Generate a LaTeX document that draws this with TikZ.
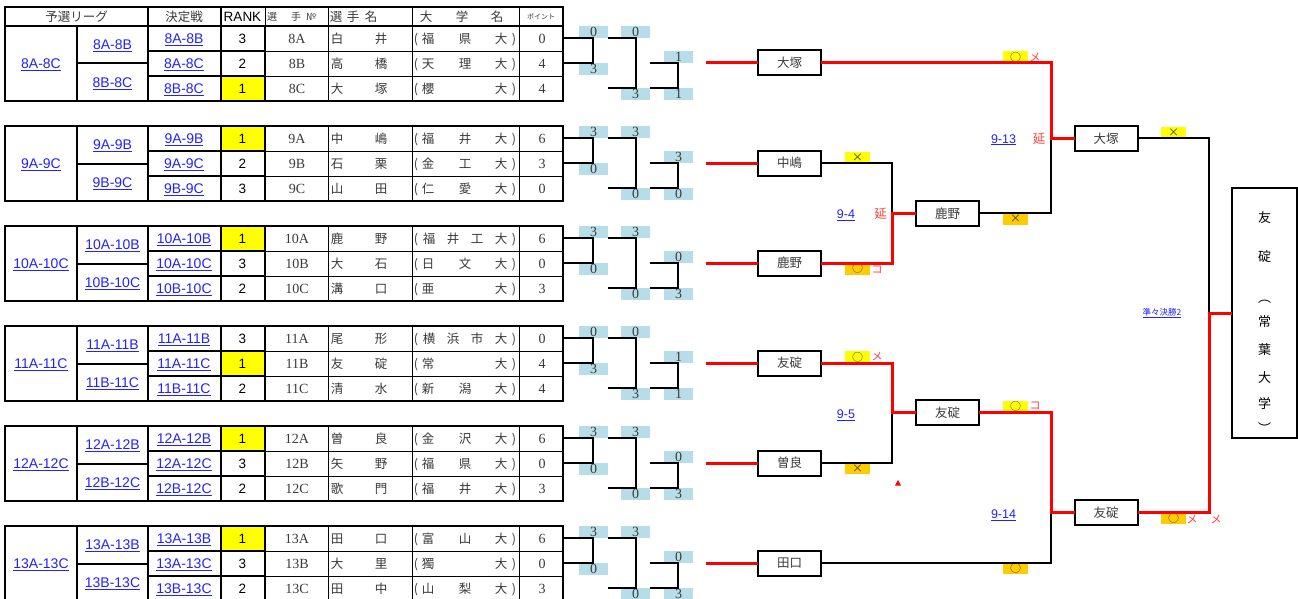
\documentclass[tikz,border=0pt]{standalone}
\usepackage{fontspec}
\setmainfont{Liberation Serif}
\newfontfamily\jpf{Noto Sans CJK JP}
\newfontfamily\snf{Liberation Sans}
\definecolor{lb}{HTML}{B7DEE8}
\definecolor{yel}{HTML}{FFFF00}
\definecolor{ora}{HTML}{FFCC00}
\definecolor{lnk}{HTML}{2222FF}
\definecolor{txt}{HTML}{3A3A3A}
\definecolor{rtx}{HTML}{FF4040}
\tikzset{
  every node/.style={inner sep=0pt,outer sep=0pt},
  tk/.style={line width=2pt},
  tn/.style={line width=0.8pt},
  lk/.style={anchor=base,yshift=-4.6pt,text=lnk,font=\snf\fontsize{12.5}{12.5}\selectfont},
  tl/.style={anchor=base,yshift=-5pt,text=lnk,font=\snf\fontsize{14}{14}\selectfont},
  jt/.style={anchor=base,yshift=-4.8pt,text=txt,font=\jpf\fontsize{12.5}{12.5}\selectfont},
  jsm/.style={anchor=base,yshift=-3.8pt,text=txt,font=\jpf\fontsize{10}{10}\selectfont},
  jtiny/.style={anchor=base,yshift=-2.8pt,text=txt,font=\jpf\fontsize{7}{7}\selectfont},
  nm/.style={anchor=base,yshift=-4.7pt,text=txt,font=\fontsize{14}{14}\selectfont},
  rk/.style={anchor=base,yshift=-4.8pt,text=black,font=\snf\fontsize{13.5}{13.5}\selectfont},
  ml/.style={fill=lb,minimum width=29pt,minimum height=12pt,text=txt,font=\fontsize{14}{14}\selectfont},
  bx/.style={draw,line width=2pt,minimum width=63pt,minimum height=25pt,text=txt,font=\jpf\fontsize{12.5}{12.5}\selectfont},
  mk/.style={minimum width=25pt,minimum height=11.5pt,text=txt,font=\jpf\fontsize{11}{11}\selectfont},
  rm/.style={text=rtx,font=\jpf\fontsize{11}{11}\selectfont},
  ry/.style={text=rtx,font=\jpf\fontsize{12.5}{12.5}\selectfont},
  fc/.style={text=black,font=\jpf\fontsize{13}{13}\selectfont},
  mb/.style={line width=2.5pt},
  blk/.style={line width=2pt},
  redl/.style={line width=3pt,red},
}
\newcommand\plrow[7]{%
  \node[rk] (rk-#1) at (242.5,#2) {#3};
  \node[nm] (no-#1) at (297,#2) {#1};
  \node[jt] (na-#1) at (337,#2) {#4};
  \node[jt] (nb-#1) at (381,#2) {#5};
  \node[jt] (po-#1) at (416,#2) {(};
  \node[jt] (pc-#1) at (514,#2) {)};
  \foreach \ux/\uc [count=\k] in {#6} {\node[jt] (u-#1-\k) at (\ux,#2) {\uc};}
  \node[nm] (pt-#1) at (542,#2) {#7};
}
\begin{document}
\begin{tikzpicture}[x=1pt,y=-1pt]
\useasboundingbox (0,0) rectangle (1298,599);
\fill[white] (0,0) rectangle (1298,599);
% header
\draw[tn] (265,7) -- (265,26) (328,7) -- (328,26) (412,7) -- (412,26) (519,7) -- (519,26);
\draw[tk] (148,7) -- (148,26) (220.5,7) -- (220.5,26);
\draw[tk] (5,7) rectangle (563,26);
\node[jt] (h1) at (76.5,16.5) {予選リーグ};
\node[jt] (h2) at (184,16.5) {決定戦};
\node[rk] (h3) at (242.5,16.5) {RANK};
\node[jsm] (h4a) at (272,16.5) {選};
\node[jsm] (h4b) at (296,16.5) {手};
\node[jsm] (h4c) at (311,16.5) {№};
\node[jt] (h5a) at (336,16.5) {選};
\node[jt] (h5b) at (353,16.5) {手};
\node[jt] (h5c) at (371,16.5) {名};
\node[jt] (h6a) at (426,16.5) {大};
\node[jt] (h6b) at (462,16.5) {学};
\node[jt] (h6c) at (497,16.5) {名};
\node[jtiny] (h7) at (541,16.5) {ポイント};
% groups
\foreach \g/\gn/\yr/\bn/\pa/\pb/\pc/\pd/\pe/\pf in {0/8/2/大塚/0/3/0/3/1/1,1/9/0/中嶋/3/0/3/0/3/0,2/10/0/鹿野/3/0/3/0/0/3,3/11/1/友碇/0/3/0/3/1/1,4/12/0/曽良/3/0/3/0/0/3,5/13/0/田口/3/0/3/0/0/3}{
  \pgfmathsetmacro\Ty{26+100*\g}
  \fill[yel] (221,\Ty+25*\yr) rectangle (265,\Ty+25*\yr+25);
  \draw[tn] (265,\Ty+25) -- (563,\Ty+25) (265,\Ty+50) -- (563,\Ty+50);
  \draw[tn] (328,\Ty) -- (328,\Ty+75) (412,\Ty) -- (412,\Ty+75) (519,\Ty) -- (519,\Ty+75);
  \draw[tk] (148,\Ty+25) -- (265,\Ty+25) (148,\Ty+50) -- (265,\Ty+50) (77,\Ty+37.5) -- (148,\Ty+37.5);
  \draw[tk] (77,\Ty) -- (77,\Ty+75) (148,\Ty) -- (148,\Ty+75) (220.5,\Ty) -- (220.5,\Ty+75) (265,\Ty) -- (265,\Ty+75);
  \draw[tk] (5,\Ty) rectangle (563,\Ty+75);
  \node[tl] (ca\gn) at (41,\Ty+37.5) {\underline{\gn A-\gn C}};
  \node[tl] (cb\gn) at (112.5,\Ty+18.75) {\underline{\gn A-\gn B}};
  \node[tl] (cc\gn) at (112.5,\Ty+56.25) {\underline{\gn B-\gn C}};
  \node[tl] (da\gn) at (184,\Ty+12.5) {\underline{\gn A-\gn B}};
  \node[tl] (db\gn) at (184,\Ty+37.5) {\underline{\gn A-\gn C}};
  \node[tl] (dc\gn) at (184,\Ty+62.5) {\underline{\gn B-\gn C}};
  % mini bracket labels
  \node[ml,anchor=south] (la\g) at (593.5,\Ty+12) {\pa};
  \node[ml,anchor=north] (lb\g) at (593.5,\Ty+37) {\pb};
  \node[ml,anchor=south] (lc\g) at (635.5,\Ty+12) {\pc};
  \node[ml,anchor=north] (ld\g) at (635.5,\Ty+62) {\pd};
  \node[ml,anchor=south] (le\g) at (678.5,\Ty+37) {\pe};
  \node[ml,anchor=north] (lf\g) at (678.5,\Ty+62) {\pf};
  % mini bracket lines
  \coordinate (ea\g) at (563,\Ty+12);
  \coordinate (eb\g) at (563,\Ty+37);
  \coordinate (ka\g) at (593,\Ty+37);
  \draw[mb] (ea\g) -| (ka\g) -- (eb\g);
  \coordinate (sa\g) at (608,\Ty+12);
  \coordinate (kb\g) at (636,\Ty+62);
  \coordinate (ta\g) at (608,\Ty+62);
  \draw[mb] (sa\g) -| (kb\g) -- (ta\g);
  \coordinate (sb\g) at (650,\Ty+37);
  \coordinate (kc\g) at (678,\Ty+62);
  \coordinate (tb\g) at (650,\Ty+62);
  \draw[mb] (sb\g) -| (kc\g) -- (tb\g);
  % first round box
  \node[bx] (b\g) at (789.5,\Ty+37) {\bn};
  \coordinate (r\g) at (706,\Ty+37);
  \draw[redl] (r\g) -- (b\g.west);
}
% players
\plrow{8A}{38.5}{3}{白}{井}{428/福,465/県,501/大}{0}
\plrow{8B}{63.5}{2}{高}{橋}{428/天,465/理,501/大}{4}
\plrow{8C}{88.5}{1}{大}{塚}{428/櫻,501/大}{4}
\plrow{9A}{138.5}{1}{中}{嶋}{428/福,465/井,501/大}{6}
\plrow{9B}{163.5}{2}{石}{栗}{428/金,465/工,501/大}{3}
\plrow{9C}{188.5}{3}{山}{田}{428/仁,465/愛,501/大}{0}
\plrow{10A}{238.5}{1}{鹿}{野}{429/福,453/井,477/工,501/大}{6}
\plrow{10B}{263.5}{3}{大}{石}{428/日,465/文,501/大}{0}
\plrow{10C}{288.5}{2}{溝}{口}{428/亜,501/大}{3}
\plrow{11A}{338.5}{3}{尾}{形}{429/横,453/浜,477/市,501/大}{0}
\plrow{11B}{363.5}{1}{友}{碇}{428/常,501/大}{4}
\plrow{11C}{388.5}{2}{清}{水}{428/新,465/潟,501/大}{4}
\plrow{12A}{438.5}{1}{曽}{良}{428/金,465/沢,501/大}{6}
\plrow{12B}{463.5}{3}{矢}{野}{428/福,465/県,501/大}{0}
\plrow{12C}{488.5}{2}{歌}{門}{428/福,465/井,501/大}{3}
\plrow{13A}{538.5}{1}{田}{口}{428/富,465/山,501/大}{6}
\plrow{13B}{563.5}{3}{大}{里}{428/獨,501/大}{0}
\plrow{13C}{588.5}{2}{田}{中}{428/山,465/梨,501/大}{3}
% later rounds boxes
\node[bx] (q1) at (947.5,213.3) {鹿野};
\node[bx] (q2) at (947.5,412.3) {友碇};
\node[bx] (s1) at (1106,138.3) {大塚};
\node[bx] (s2) at (1106,512.3) {友碇};
\node[draw,line width=2pt,minimum width=65pt,minimum height=250pt] (fin) at (1264.5,313) {};
\node[fc] (f1) at (1264.5,218) {友};
\node[fc] (f2) at (1264.5,256.5) {碇};
\node[fc] (f3) at (1264.5,302) {︵};
\node[fc] (f4) at (1264.5,322) {常};
\node[fc] (f5) at (1264.5,350) {葉};
\node[fc] (f6) at (1264.5,377.5) {大};
\node[fc] (f7) at (1264.5,404) {学};
\node[fc] (f8) at (1264.5,428) {︶};
% marks
\node[mk,fill=yel,anchor=south] (m1) at (1015.5,63) {○};
\node[mk,fill=yel,anchor=south] (m2) at (857.5,163) {×};
\node[mk,fill=ora,anchor=north] (m3) at (857.5,263) {○};
\node[mk,fill=ora,anchor=north] (m4) at (1015.5,213.3) {×};
\node[mk,fill=yel,anchor=south] (m5) at (1173.5,138.3) {×};
\node[mk,fill=ora,anchor=north] (m6) at (1173.5,512.3) {○};
\node[mk,fill=yel,anchor=south] (m7) at (857.5,362.7) {○};
\node[mk,fill=ora,anchor=north] (m8) at (857.5,462.7) {×};
\node[mk,fill=yel,anchor=south] (m9) at (1015.5,412.3) {○};
\node[mk,fill=ora,anchor=north] (m10) at (1015.5,562.7) {○};
\node[rm] (t1) at (1035,57) {メ};
\node[rm] (t2) at (877,270) {コ};
\node[rm] (t3) at (1192,519) {メ};
\node[rm] (t4) at (1216,519) {メ};
\node[rm] (t5) at (877,356) {メ};
\node[rm] (t6) at (1035,406) {コ};
\node[ry] (y1) at (880.5,213.5) {延};
\node[ry] (y2) at (1039,138.5) {延};
\node[lk] (g1) at (846,214) {\underline{9-4}};
\node[lk] (g2) at (1003.5,138.5) {\underline{9-13}};
\node[lk] (g3) at (846,414) {\underline{9-5}};
\node[lk] (g4) at (1003.5,514) {\underline{9-14}};
\node[anchor=base,yshift=-3pt,text=lnk,font=\jpf\fontsize{8.5}{8.5}\selectfont] (g5) at (1162,312.5) {\underline{準々決勝2}};
\fill[red] (895,485.5) -- (901,485.5) -- (898,480) -- cycle;
% connectors
\coordinate (j1) at (892,213.3);
\coordinate (j2) at (892,412.3);
\coordinate (j3) at (1051,138.3);
\coordinate (j4) at (1051,512.3);
\coordinate (j5) at (1209,313);
\draw[blk] (b1.east) -| (j1);
\draw[blk] (b4.east) -| (j2);
\draw[blk] (q1.east) -| (j3);
\draw[blk] (b5.east) -| (j4);
\draw[blk] (s1.east) -| (j5);
\draw[redl] (b2.east) -| (j1) -- (q1.west);
\draw[redl] (b3.east) -| (j2) -- (q2.west);
\draw[redl] (b0.east) -| (j3) -- (s1.west);
\draw[redl] (q2.east) -| (j4) -- (s2.west);
\draw[redl] (s2.east) -| (j5) -- (fin.west);
\end{tikzpicture}
\end{document}
